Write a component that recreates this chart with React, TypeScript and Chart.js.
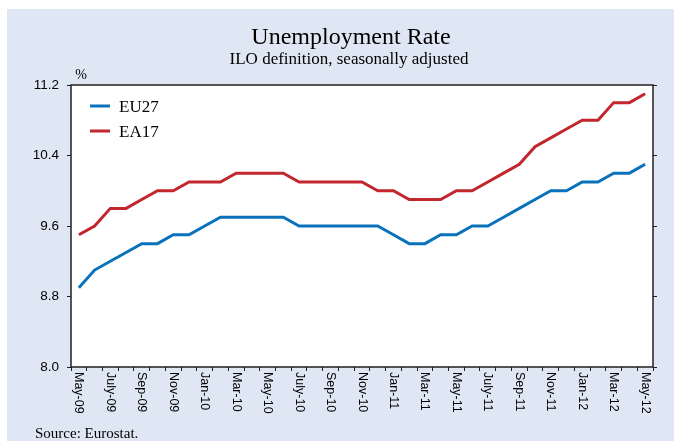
import React, { useEffect, useRef } from "react";
import { Chart, registerables } from "chart.js";

Chart.register(...registerables);

const categories = [
  "May-09", "Jun-09", "July-09", "Aug-09", "Sep-09", "Oct-09", "Nov-09", "Dec-09",
  "Jan-10", "Feb-10", "Mar-10", "Apr-10", "May-10", "Jun-10", "July-10", "Aug-10",
  "Sep-10", "Oct-10", "Nov-10", "Dec-10", "Jan-11", "Feb-11", "Mar-11", "Apr-11",
  "May-11", "Jun-11", "July-11", "Aug-11", "Sep-11", "Oct-11", "Nov-11", "Dec-11",
  "Jan-12", "Feb-12", "Mar-12", "Apr-12", "May-12",
];

const eu27 = [
  8.9, 9.1, 9.2, 9.3, 9.4, 9.4, 9.5, 9.5, 9.6, 9.7, 9.7, 9.7, 9.7, 9.7, 9.6, 9.6,
  9.6, 9.6, 9.6, 9.6, 9.5, 9.4, 9.4, 9.5, 9.5, 9.6, 9.6, 9.7, 9.8, 9.9, 10.0, 10.0,
  10.1, 10.1, 10.2, 10.2, 10.3,
];

const ea17 = [
  9.5, 9.6, 9.8, 9.8, 9.9, 10.0, 10.0, 10.1, 10.1, 10.1, 10.2, 10.2, 10.2, 10.2, 10.1, 10.1,
  10.1, 10.1, 10.1, 10.0, 10.0, 9.9, 9.9, 9.9, 10.0, 10.0, 10.1, 10.2, 10.3, 10.5, 10.6, 10.7,
  10.8, 10.8, 11.0, 11.0, 11.1,
];

const seriesNames = ["EU27", "EA17"];
const seriesColors = ["#0a72bb", "#c1272d"];

const yMin = 8.0;
const yMax = 11.2;
const yStep = 0.8;

const titleText = "Unemployment Rate";
const subtitleText = "ILO definition, seasonally adjusted";
const unitText = "%";
const sourceText = "Source: Eurostat.";

const W = 674;
const H = 441;
const BG = "#e0e7f4";
const AXIS = "#231f20";

const decorPlugin = {
  id: "decor",
  beforeDraw(chart: any) {
    const ctx = chart.ctx;
    ctx.save();
    ctx.fillStyle = "#ffffff";
    ctx.fillRect(0, 0, W, H);
    ctx.fillStyle = BG;
    ctx.fillRect(7, 9, W - 7, H - 9);
    const a = chart.chartArea;
    ctx.fillStyle = "#ffffff";
    ctx.fillRect(a.left, a.top, a.right - a.left, a.bottom - a.top);
    ctx.restore();
  },
  afterDraw(chart: any) {
    const ctx = chart.ctx;
    const a = chart.chartArea;
    ctx.save();
    // frame
    ctx.strokeStyle = AXIS;
    ctx.lineWidth = 1.5;
    ctx.strokeRect(a.left, a.top, a.right - a.left, a.bottom - a.top);

    // titles
    ctx.fillStyle = "#000000";
    ctx.textAlign = "center";
    ctx.textBaseline = "alphabetic";
    ctx.font = '24px "Liberation Serif"';
    ctx.fillText(titleText, 351, 44);
    ctx.font = '17px "Liberation Serif"';
    ctx.fillText(subtitleText, 349, 64);
    ctx.font = '14px "Liberation Serif"';
    ctx.fillText(unitText, 81, 79);
    ctx.textAlign = "left";
    ctx.font = '15px "Liberation Serif"';
    ctx.fillText(sourceText, 35, 438);

    // legend
    const ly = [106, 131];
    for (let i = 0; i < seriesNames.length; i++) {
      ctx.strokeStyle = seriesColors[i];
      ctx.lineWidth = 3;
      ctx.beginPath();
      ctx.moveTo(90, ly[i]);
      ctx.lineTo(110, ly[i]);
      ctx.stroke();
      ctx.fillStyle = "#000000";
      ctx.font = '17px "Liberation Serif"';
      ctx.textAlign = "left";
      ctx.textBaseline = "alphabetic";
      ctx.fillText(seriesNames[i], 119, ly[i] + 6);
    }

    // rotated x labels (clockwise)
    const xs = chart.scales.x;
    ctx.fillStyle = "#000000";
    ctx.font = '12.5px "Liberation Sans"';
    ctx.textAlign = "left";
    ctx.textBaseline = "middle";
    for (let i = 0; i < categories.length; i += 2) {
      const px = xs.getPixelForValue(i);
      ctx.save();
      ctx.translate(px, a.bottom + 5);
      ctx.rotate(Math.PI / 2);
      ctx.fillText(categories[i], 0, 0);
      ctx.restore();
    }
    ctx.restore();
  },
};

export default function App() {
  const ref = useRef<HTMLCanvasElement | null>(null);

  useEffect(() => {
    if (!ref.current) return;
    const chart = new Chart(ref.current, {
      type: "line",
      data: {
        labels: categories,
        datasets: [
          {
            label: seriesNames[0],
            data: eu27,
            borderColor: seriesColors[0],
            backgroundColor: seriesColors[0],
            borderWidth: 3,
            pointRadius: 0,
            tension: 0,
            yAxisID: "y",
          },
          {
            label: seriesNames[1],
            data: ea17,
            borderColor: seriesColors[1],
            backgroundColor: seriesColors[1],
            borderWidth: 3,
            pointRadius: 0,
            tension: 0,
            yAxisID: "y",
          },
        ],
      },
      options: {
        responsive: false,
        animation: false,
        devicePixelRatio: 1,
        layout: { padding: { top: 85, left: 0, right: 0, bottom: 0 } },
        plugins: {
          legend: { display: false },
          title: { display: false },
          tooltip: { enabled: false },
        },
        scales: {
          x: {
            type: "category",
            offset: true,
            border: { display: false },
            grid: {
              display: true,
              offset: true,
              drawOnChartArea: false,
              drawTicks: true,
              tickLength: 4,
              color: AXIS,
              lineWidth: 1,
            },
            ticks: {
              autoSkip: false,
              minRotation: 90,
              maxRotation: 90,
              color: "rgba(0,0,0,0)",
              font: { family: "Liberation Sans", size: 12 },
              callback: (_v: any, i: number) => (i % 2 === 0 ? categories[i] : ""),
            },
            afterFit: (s: any) => {
              s.height = H - 367;
            },
          },
          y: {
            position: "left",
            min: yMin,
            max: yMax,
            border: { display: false },
            grid: {
              display: true,
              drawOnChartArea: false,
              drawTicks: true,
              tickLength: 4,
              color: AXIS,
            },
            ticks: {
              stepSize: yStep,
              padding: 8,
              color: "#000000",
              font: { family: "Liberation Sans", size: 13.5 },
              callback: (v: any) => Number(v).toFixed(1),
            },
            afterFit: (s: any) => {
              s.width = 71;
            },
          },
          y2: {
            position: "right",
            min: yMin,
            max: yMax,
            border: { display: false },
            grid: {
              display: true,
              drawOnChartArea: false,
              drawTicks: true,
              tickLength: 4,
              color: AXIS,
            },
            ticks: {
              stepSize: yStep,
              display: false,
            },
            afterFit: (s: any) => {
              s.width = W - 653;
            },
          },
        },
      },
      plugins: [decorPlugin],
    });
    return () => chart.destroy();
  }, []);

  return (
    <div style={{ position: "fixed", left: 0, top: 0, width: W, height: H }}>
      <canvas ref={ref} width={W} height={H} style={{ width: W, height: H, display: "block" }} />
    </div>
  );
}
